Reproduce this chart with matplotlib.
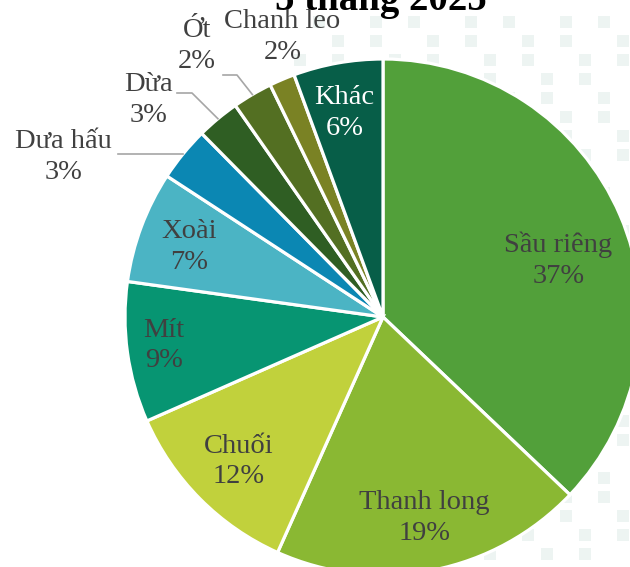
import numpy as np
import matplotlib.pyplot as plt

# cơ cấu xuất khẩu rau quả 5 tháng 2025
labels = ['Sầu riêng', 'Thanh long', 'Chuối', 'Mít', 'Xoài',
          'Dưa hấu', 'Dừa', 'Ớt', 'Chanh leo', 'Khác']
shares = [37.1, 19.6, 11.7, 8.8, 7.0, 3.4, 2.7, 2.5, 1.6, 5.6]
pct_text = ['37%', '19%', '12%', '9%', '7%', '3%', '3%', '2%', '2%', '6%']
colors = ['#52a03a', '#8ab833', '#c1d13c', '#079572', '#4bb4c4',
          '#0b87b3', '#2f5e23', '#536f22', '#7a8224', '#075e48']

W, H = 630, 567
cx, cy, R = 383, H - 317, 258

plt.rcParams['font.family'] = ['Liberation Serif', 'DejaVu Serif']

fig = plt.figure(figsize=(6.3, 5.67), dpi=100)
ax = fig.add_axes([0, 0, 1, 1])

# faint dotted background pattern (decoration)
gx = np.arange(300, 640, 19)
gy = np.arange(H - 22, -10, -19)
px, py = np.meshgrid(gx, gy)
keep = ((px.ravel() // 19 * 2 + py.ravel() // 19) % 5) < 2
ax.scatter(px.ravel()[keep], py.ravel()[keep], s=65, marker='s',
           color='#edf4f2', linewidths=0, zorder=0)

wedges, _ = ax.pie(shares, colors=colors, startangle=90, counterclock=False,
                   center=(cx, cy), radius=R,
                   wedgeprops=dict(edgecolor='white', linewidth=2.3))
for w in wedges:
    w.set_zorder(2)

# label offsets in units of radius (layout only)
pos = [(0.68, 0.22), (0.16, -0.78), (-0.56, -0.56), (-0.85, -0.11),
       (-0.75, 0.27), (-1.24, 0.62), (-0.91, 0.84), (-0.72, 1.05),
       (-0.39, 1.085), (-0.15, 0.79)]
txt_col = ['#404040'] * 9 + ['white']
for lab, p, (dx, dy), c in zip(labels, pct_text, pos, txt_col):
    ax.text(cx + dx * R, cy + dy * R, f'{lab}\n{p}', ha='center', va='center',
            fontsize=20.5, color=c, linespacing=1.3, zorder=4)

# leader lines for small slices
elbows = {5: [(118, None)], 6: [(192, H - 93), (177, H - 93)],
          7: [(237, H - 75), (223, H - 75)]}
for i, pts in elbows.items():
    w = wedges[i]
    th = np.deg2rad((w.theta1 + w.theta2) / 2)
    ex, ey = cx + R * np.cos(th), cy + R * np.sin(th)
    xs = [ex] + [p[0] for p in pts]
    ys = [ey] + [ey if p[1] is None else p[1] for p in pts]
    ax.plot(xs, ys, color='#a6a6a6', lw=1.2, zorder=3)

ax.text(381, H - 10, '5 tháng 2025', ha='center', va='baseline',
        fontsize=28, fontweight='bold', color='black', zorder=3)

ax.set_xlim(0, W)
ax.set_ylim(0, H)
ax.set_aspect('equal')
ax.axis('off')

fig.savefig('out.png', dpi=100)
